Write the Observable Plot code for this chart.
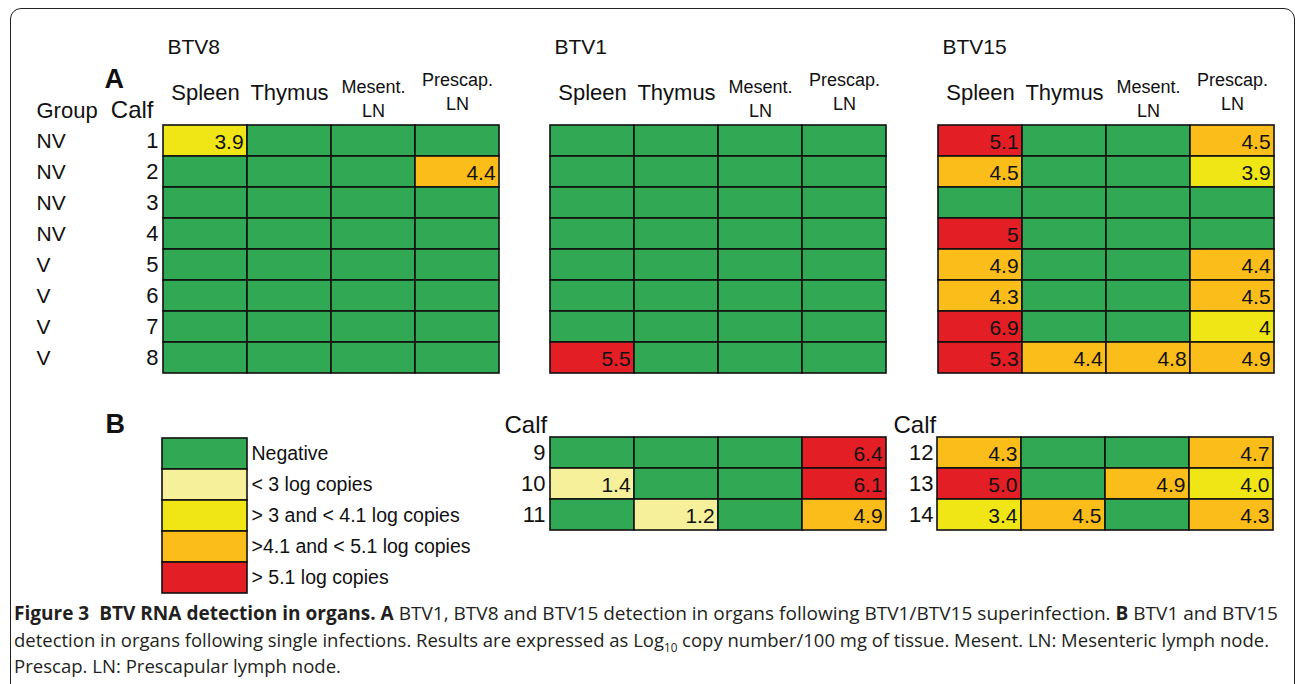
<!DOCTYPE html>
<html><head><meta charset="utf-8">
<script src="https://cdn.jsdelivr.net/npm/d3@7"></script>
<script src="https://cdn.jsdelivr.net/npm/@observablehq/plot@0.6"></script>
<style>
body{margin:0;background:#fff;}
#fig{position:relative;width:1295px;height:684px;overflow:hidden;font-family:"Liberation Sans",Arial,sans-serif;background:#fff;}
#frame{position:absolute;left:10px;top:8px;width:1285px;height:720px;border:1.5px solid #222;border-radius:11px 11px 0 0;box-sizing:border-box;}
#caption{position:absolute;left:14px;top:600px;font-family:"Open Sans",sans-serif;font-size:19px;line-height:26.5px;color:#231f20;white-space:nowrap;}
#caption div{white-space:nowrap;height:26.5px;}
#caption span.ln{display:inline-block;transform-origin:0 50%;}
#caption sub{font-size:12px;line-height:0;}
</style></head>
<body>
<div id="fig">
  <div id="frame"></div>
  <div id="caption">
    <div><span class="ln" data-w="1264"><b>Figure 3&nbsp; BTV RNA detection in organs. A</b> BTV1, BTV8 and BTV15 detection in organs following BTV1/BTV15 superinfection. <b>B</b> BTV1 and BTV15</span></div>
    <div><span class="ln" data-w="1255">detection in organs following single infections. Results are expressed as Log<sub>10</sub> copy number/100 mg of tissue. Mesent. LN: Mesenteric lymph node.</span></div>
    <div><span class="ln" data-w="327">Prescap. LN: Prescapular lymph node.</span></div>
  </div>
</div>
<script>
// ---------- data ----------
const organs = ["Spleen", "Thymus", "Mesent. LN", "Prescap. LN"];
const calvesA = ["1", "2", "3", "4", "5", "6", "7", "8"];
const groupsA = ["NV", "NV", "NV", "NV", "V", "V", "V", "V"];
const btv8 = [
  ["3.9", null, null, null],
  [null, null, null, "4.4"],
  [null, null, null, null],
  [null, null, null, null],
  [null, null, null, null],
  [null, null, null, null],
  [null, null, null, null],
  [null, null, null, null]
];
const btv1 = [
  [null, null, null, null],
  [null, null, null, null],
  [null, null, null, null],
  [null, null, null, null],
  [null, null, null, null],
  [null, null, null, null],
  [null, null, null, null],
  ["5.5", null, null, null]
];
const btv15 = [
  ["5.1", null, null, "4.5"],
  ["4.5", null, null, "3.9"],
  [null, null, null, null],
  ["5", null, null, null],
  ["4.9", null, null, "4.4"],
  ["4.3", null, null, "4.5"],
  ["6.9", null, null, "4"],
  ["5.3", "4.4", "4.8", "4.9"]
];
const calvesB1 = ["9", "10", "11"];
const singleBTV1 = [
  [null, null, null, "6.4"],
  ["1.4", null, null, "6.1"],
  [null, "1.2", null, "4.9"]
];
const calvesB2 = ["12", "13", "14"];
const singleBTV15 = [
  ["4.3", null, null, "4.7"],
  ["5.0", null, "4.9", "4.0"],
  ["3.4", "4.5", null, "4.3"]
];
const categories = ["Negative", "< 3 log copies", "> 3 and < 4.1 log copies", ">4.1 and < 5.1 log copies", "> 5.1 log copies"];
const colors = ["#31a853", "#f6f09b", "#f0e515", "#fbbd1a", "#e31e25"];

// ---------- helpers ----------
function category(v) {
  if (v == null) return categories[0];
  const n = +v;
  if (n < 3) return categories[1];
  if (n < 4.1) return categories[2];
  if (n < 5) return categories[3];
  return categories[4];
}
const FONT = "'Liberation Sans', Arial, sans-serif";
const INK = "#111";
const fig = document.getElementById("fig");

function place(svg, left, top) {
  svg.style.position = "absolute";
  svg.style.left = left + "px";
  svg.style.top = top + "px";
  fig.appendChild(svg);
}

function grid({rows, values, left, top, width, height, mL, mT, mR, mB, extra = []}) {
  const cells = [];
  rows.forEach((r, i) => organs.forEach((o, j) => cells.push({calf: r, organ: o, v: values[i][j], cat: category(values[i][j])})));
  const bw = (width - mL - mR) / organs.length;
  const svg = Plot.plot({
    width, height,
    marginLeft: mL, marginTop: mT, marginRight: mR, marginBottom: mB,
    style: {fontFamily: FONT, background: "transparent", color: INK, overflow: "visible"},
    x: {domain: organs, padding: 0, axis: null},
    y: {domain: rows, padding: 0, axis: null},
    color: {domain: categories, range: colors},
    marks: [
      Plot.cell(cells, {x: "organ", y: "calf", fill: "cat", stroke: INK, strokeWidth: 1.6, inset: 0}),
      Plot.text(cells.filter(d => d.v != null), {x: "organ", y: "calf", text: "v", textAnchor: "end", dx: bw / 2 - 4, dy: 1, fontSize: 21, fill: INK}),
      ...extra
    ]
  });
  place(svg, left, top);
}

function headers(title) {
  return [
    Plot.text([title], {frameAnchor: "top-left", dx: 5, dy: 53 - 124, textAnchor: "start", lineAnchor: "bottom", fontSize: 21, fill: INK}),
    Plot.text(organs.slice(0, 2), {x: d => d, frameAnchor: "top", dy: 99 - 124, lineAnchor: "bottom", fontSize: 22, fill: INK}),
    Plot.text([organs[2]], {x: d => d, text: d => d.replace(" ", "\n"), frameAnchor: "top", dy: 116 - 124, lineAnchor: "bottom", lineHeight: 1.33, fontSize: 18, fill: INK}),
    Plot.text([organs[3]], {x: d => d, text: d => d.replace(" ", "\n"), frameAnchor: "top", dy: 109 - 124, lineAnchor: "bottom", lineHeight: 1.3, fontSize: 18, fill: INK})
  ];
}

// ---------- panel A ----------
grid({
  rows: calvesA, values: btv8, left: 0, top: 0, width: 505, height: 380,
  mL: 162, mT: 124, mR: 6, mB: 7,
  extra: [
    ...headers("BTV8"),
    Plot.axisY(calvesA, {anchor: "left", tickSize: 0, tickPadding: 4, fontSize: 22, label: null}),
    Plot.text(calvesA, {y: d => d, text: (d, i) => groupsA[i], frameAnchor: "left", dx: 36 - 162, textAnchor: "start", fontSize: 21, fill: INK}),
    Plot.text(["Group"], {frameAnchor: "top-left", dx: 36 - 162, dy: 117 - 124, textAnchor: "start", lineAnchor: "bottom", fontSize: 22, fill: INK}),
    Plot.text(["Calf"], {frameAnchor: "top-left", dx: -9, dy: 117 - 124, textAnchor: "end", lineAnchor: "bottom", fontSize: 24, fill: INK}),
    Plot.text(["A"], {frameAnchor: "top-left", dx: 104 - 162, dy: 87 - 124, textAnchor: "start", lineAnchor: "bottom", fontSize: 27, fontWeight: "bold", fill: INK})
  ]
});
grid({
  rows: calvesA, values: btv1, left: 520, top: 0, width: 380, height: 380,
  mL: 29, mT: 124, mR: 14, mB: 7,
  extra: headers("BTV1")
});
grid({
  rows: calvesA, values: btv15, left: 905, top: 0, width: 385, height: 380,
  mL: 32, mT: 124, mR: 16, mB: 7,
  extra: headers("BTV15")
});

// ---------- panel B ----------
grid({
  rows: calvesB1, values: singleBTV1, left: 490, top: 400, width: 410, height: 140,
  mL: 59, mT: 36, mR: 14, mB: 10,
  extra: [
    Plot.axisY(calvesB1, {anchor: "left", tickSize: 0, tickPadding: 4, fontSize: 22, label: null}),
    Plot.text(["Calf"], {frameAnchor: "top-left", dx: 504 - 549, dy: -4, textAnchor: "start", lineAnchor: "bottom", fontSize: 24, fill: INK})
  ]
});
grid({
  rows: calvesB2, values: singleBTV15, left: 880, top: 400, width: 410, height: 140,
  mL: 57, mT: 36, mR: 17, mB: 10,
  extra: [
    Plot.axisY(calvesB2, {anchor: "left", tickSize: 0, tickPadding: 4, fontSize: 22, label: null}),
    Plot.text(["Calf"], {frameAnchor: "top-left", dx: 893 - 937, dy: -4, textAnchor: "start", lineAnchor: "bottom", fontSize: 24, fill: INK})
  ]
});

// legend
const legendSvg = Plot.plot({
  width: 400, height: 200,
  marginLeft: 72, marginTop: 37, marginRight: 243, marginBottom: 7,
  style: {fontFamily: FONT, background: "transparent", color: INK, overflow: "visible"},
  y: {domain: categories, padding: 0, axis: null},
  color: {domain: categories, range: colors},
  marks: [
    Plot.cell(categories, {y: d => d, fill: d => d, stroke: INK, strokeWidth: 1.6, inset: 0}),
    Plot.axisY(categories, {anchor: "right", tickSize: 0, tickPadding: 4, fontSize: 19.5, label: null}),
    Plot.text(["B"], {frameAnchor: "top-left", dx: 105 - 162, dy: -5, textAnchor: "start", lineAnchor: "bottom", fontSize: 27, fontWeight: "bold", fill: INK})
  ]
});
place(legendSvg, 90, 400);

// fit each caption line to the width it takes in the reference
document.querySelectorAll("#caption span.ln").forEach(s => {
  const w = s.getBoundingClientRect().width;
  const target = +s.dataset.w;
  if (w > 0) s.style.transform = `scaleX(${target / w})`;
});
</script>
</body></html>
